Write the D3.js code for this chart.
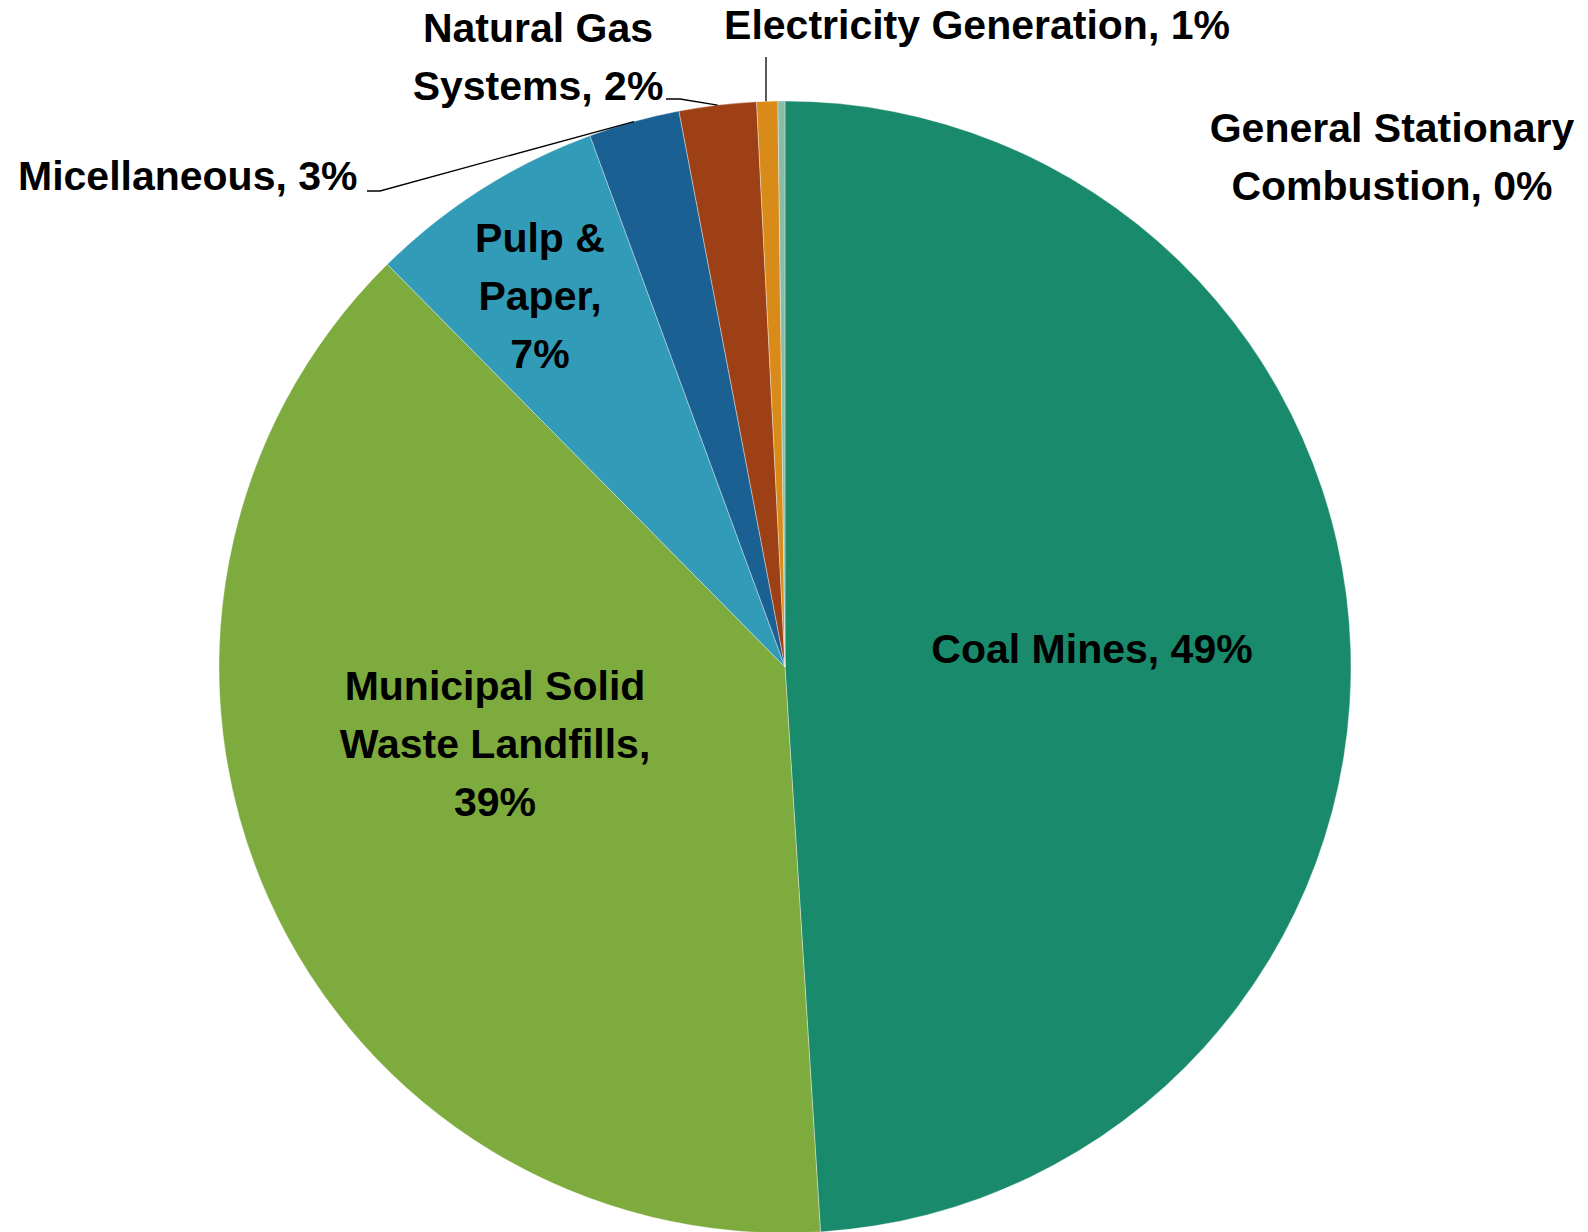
<!DOCTYPE html>
<html><head><meta charset="utf-8">
<script src="https://cdn.jsdelivr.net/npm/d3@7"></script>
<style>
html,body{margin:0;padding:0;background:#fff;}
svg text{font-family:"Liberation Sans",Arial,sans-serif;font-weight:bold;fill:#000;}
</style></head>
<body>
<svg id="chart" width="1588" height="1232"></svg>
<script>
const categories = ["Coal Mines","Municipal Solid Waste Landfills","Pulp & Paper","Micellaneous","Natural Gas Systems","Electricity Generation","General Stationary Combustion"];
const values = [49.0, 38.6, 6.8, 2.6, 2.2, 0.6, 0.2];
const percentLabels = ["49%","39%","7%","3%","2%","1%","0%"];
const colors = ["#1a8a6c","#7eab3e","#319bb8","#1b6092","#9e4016","#d98b19","#8abba5"];

// label layout (lines, anchor offset relative to pie centre in px)
const labelLayout = [
  {lines:["Coal Mines, 49%"], x:307, y:-4, dy:0},
  {lines:["Municipal Solid","Waste Landfills,","39%"], x:-290, y:33, dy:58},
  {lines:["Pulp &","Paper,","7%"], x:-245, y:-415, dy:58},
  {lines:["Micellaneous, 3%"], x:-595, y:-477, dy:0, anchor:"start", abs:[18,190], leader:[[367,191],[380,191]]},
  {lines:["Natural Gas","Systems, 2%"], x:-247, y:-625, dy:58, abs:[538,42], leader:[[666,99],[680,99]]},
  {lines:["Electricity Generation, 1%"], abs:[977,39], dy:0, leader:[[766,57]]},
  {lines:["General Stationary","Combustion, 0%"], abs:[1392,142], dy:58}
];

const svg = d3.select("#chart");
const cx = 785, cy = 667, R = 566;
const g = svg.append("g").attr("transform", `translate(${cx},${cy})`);

const pie = d3.pie().sort(null).value(d => d).startAngle(0).endAngle(2*Math.PI);
const arcs = pie(values);
const arc = d3.arc().innerRadius(0).outerRadius(R);

g.selectAll("path.slice").data(arcs).enter().append("path")
  .attr("class","slice")
  .attr("d", arc)
  .attr("fill", (d,i) => colors[i])
  .attr("stroke", "#ffffff")
  .attr("stroke-width", 0.6)
  .attr("stroke-opacity", 0.6);

// point on the pie edge at a slice's mid angle
function edgePoint(d, r){
  const a = (d.startAngle + d.endAngle)/2;
  return [cx + r*Math.sin(a), cy - r*Math.cos(a)];
}

// leader lines
labelLayout.forEach((L,i) => {
  if(!L.leader) return;
  const pts = L.leader.slice();
  if (i === 5) {
    const e = edgePoint(arcs[i], R);
    pts.push([pts[0][0], e[1]]);
  } else {
    pts.push(edgePoint(arcs[i], R));
  }
  svg.append("path")
    .attr("d", d3.line()(pts))
    .attr("fill","none").attr("stroke","#000").attr("stroke-width",1.3);
});

// labels
labelLayout.forEach((L,i) => {
  const x = L.abs ? L.abs[0] : cx + L.x;
  const y = L.abs ? L.abs[1] : cy + L.y;
  const t = svg.append("text")
    .attr("x", x).attr("y", y)
    .attr("text-anchor", L.anchor || "middle")
    .style("font-size","41px");
  L.lines.forEach((ln,k) => {
    t.append("tspan").attr("x", x).attr("y", y + k*L.dy).text(ln);
  });
});
</script>
</body></html>
